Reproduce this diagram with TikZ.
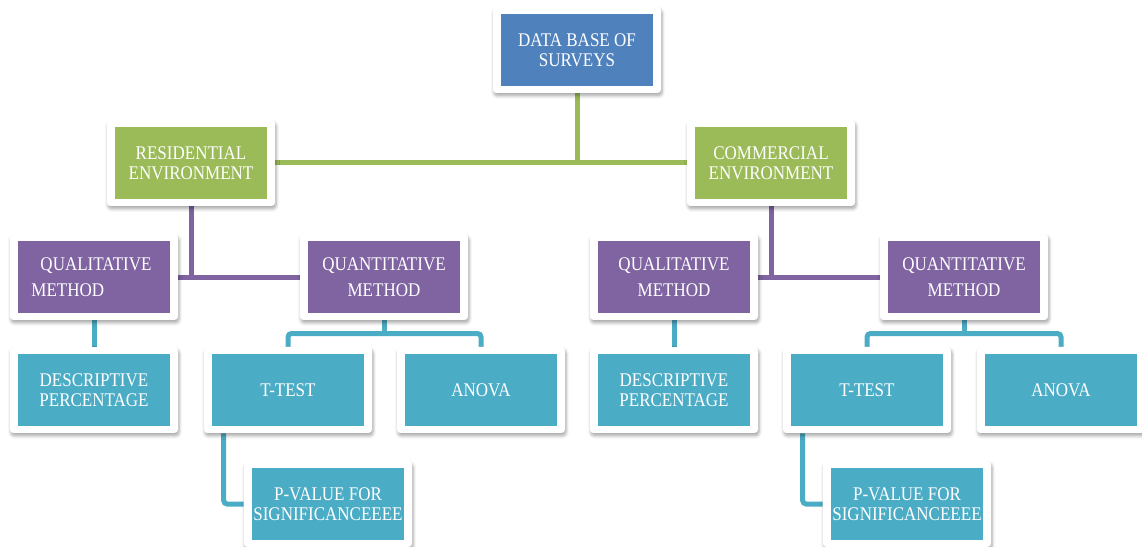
\documentclass[tikz,border=0pt]{standalone}
\usepackage{fontspec}
\setmainfont[FakeStretch=0.88]{Liberation Serif}
\usetikzlibrary{calc,backgrounds,shadows.blur}

\definecolor{dbblue}{HTML}{4F81BD}
\definecolor{envgreen}{HTML}{9BBB59}
\definecolor{methpurple}{HTML}{8064A2}
\definecolor{testteal}{HTML}{4BACC6}

\tikzset{
  box/.style={fill=white, rounded corners=2pt, inner sep=0pt,
    minimum width=3.36cm, minimum height=1.72cm,
    text=white, align=center, font=\fontsize{11}{11.2}\selectfont,
    blur shadow={shadow xshift=0.6pt, shadow yshift=-1.6pt,
      shadow blur steps=6, shadow opacity=35},
    path picture={\fill[#1, sharp corners]
      ([shift={(0.16cm,0.14cm)}]path picture bounding box.south west) rectangle
      ([shift={(-0.16cm,-0.14cm)}]path picture bounding box.north east);}},
  methodbox/.style={box=methpurple, font=\fontsize{11}{15}\selectfont},
  link/.style={line width=0.1cm, draw=#1}
}

\begin{document}
\begin{tikzpicture}[x=0.02cm, y=-0.02cm]

\useasboundingbox (0,0) rectangle (1142,547);

\node [box=dbblue] (db) at (577,50) {DATA BASE OF\\SURVEYS};

\node [box=envgreen] (res) at (191,163) {RESIDENTIAL\\ENVIRONMENT};
\node [box=envgreen] (com) at (771,163) {COMMERCIAL\\ENVIRONMENT};

\node [methodbox, align=left] (qlL) at (94,277) {\hspace*{0.18cm}QUALITATIVE\hspace*{0.1cm}\\METHOD};
\node [methodbox] (qnL) at (384,277) {QUANTITATIVE\\METHOD};
\node [methodbox] (qlR) at (674,277) {QUALITATIVE\\METHOD};
\node [methodbox] (qnR) at (964,277) {QUANTITATIVE\\METHOD};

\node [box=testteal] (dsL) at (94,390) {DESCRIPTIVE\\PERCENTAGE};
\node [box=testteal] (ttL) at (288,390) {T-TEST};
\node [box=testteal] (anL) at (481,390) {ANOVA};
\node [box=testteal] (dsR) at (674,390) {DESCRIPTIVE\\PERCENTAGE};
\node [box=testteal] (ttR) at (867,390) {T-TEST};
\node [box=testteal] (anR) at (1061,390) {ANOVA};

\node [box=testteal] (pvL) at (328,504) {P-VALUE FOR\\SIGNIFICANCEEEE};
\node [box=testteal] (pvR) at (907,504) {P-VALUE FOR\\SIGNIFICANCEEEE};

\coordinate (jL) at ($(qnL.south)!0.5!(qnL.south |- ttL.north)$);
\coordinate (jR) at ($(qnR.south)!0.5!(qnR.south |- ttR.north)$);

\begin{scope}[on background layer]
\draw [link=envgreen] (db) -- (db |- res);
\draw [link=envgreen] (res) -- (com);

\draw [link=methpurple] (res) -- (res |- qlL);
\draw [link=methpurple] (qlL) -- (qnL);
\draw [link=methpurple] (com) -- (com |- qlR);
\draw [link=methpurple] (qlR) -- (qnR);

\draw [link=testteal] (qlL) -- (dsL);
\draw [link=testteal] (qnL) -- (jL);
\draw [link=testteal, rounded corners=2pt] (ttL) |- (jL) -| (anL);
\draw [link=testteal, rounded corners=2pt] ([xshift=0.4cm]ttL.south west) |- (pvL);

\draw [link=testteal] (qlR) -- (dsR);
\draw [link=testteal] (qnR) -- (jR);
\draw [link=testteal, rounded corners=2pt] (ttR) |- (jR) -| (anR);
\draw [link=testteal, rounded corners=2pt] ([xshift=0.4cm]ttR.south west) |- (pvR);
\end{scope}

\end{tikzpicture}
\end{document}
